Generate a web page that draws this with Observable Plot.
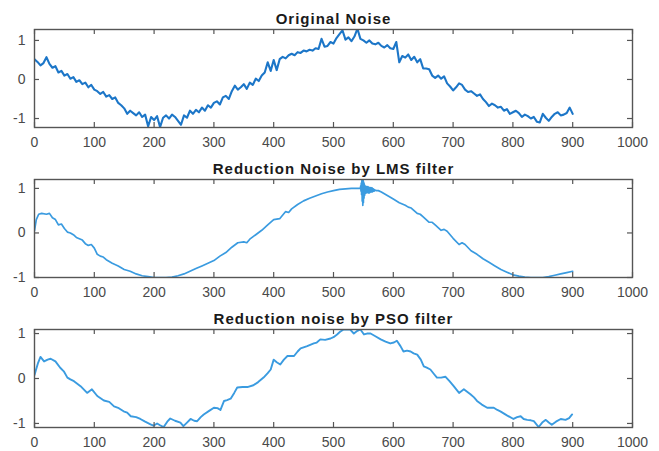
<!DOCTYPE html>
<html><head><meta charset="utf-8">
<script src="https://cdn.jsdelivr.net/npm/d3@7"></script>
<script src="https://cdn.jsdelivr.net/npm/@observablehq/plot@0.6"></script>
<style>body{margin:0;background:#fff;} #chart{width:659px;} svg{display:block;}</style>
</head><body><div id="chart"></div>
<script>
const titles = ["Original Noise", "Reduction Noise by LMS filter", "Reduction noise by PSO filter"];
const xTicks = [0, 100, 200, 300, 400, 500, 600, 700, 800, 900, 1000];
const yTicks = [-1, 0, 1];

// Original noise: samples every 5 from 0 to 900
const origX = d3.range(0, 901, 5);
const origY = [0.52,0.45,0.36,0.42,0.57,0.40,0.30,0.34,0.18,0.22,0.10,0.14,0.02,0.06,-0.06,-0.02,-0.12,-0.08,-0.20,-0.14,
-0.26,-0.30,-0.37,-0.32,-0.44,-0.40,-0.50,-0.46,-0.60,-0.66,-0.74,-0.88,-0.80,-0.86,-0.92,-0.84,-0.96,-0.90,-1.20,-0.96,
-1.04,-0.94,-1.22,-0.98,-0.92,-1.00,-0.90,-0.96,-1.06,-1.16,-0.92,-0.98,-0.80,-0.88,-0.78,-0.84,-0.72,-0.80,-0.66,-0.72,
-0.60,-0.56,-0.64,-0.46,-0.42,-0.50,-0.30,-0.16,-0.26,-0.20,-0.12,-0.24,-0.08,-0.14,0.02,-0.04,0.10,0.18,0.44,0.22,
0.50,0.24,0.52,0.58,0.54,0.62,0.66,0.62,0.70,0.68,0.74,0.72,0.76,0.74,0.80,0.78,1.04,0.84,0.86,0.96,
0.92,1.06,1.16,1.26,1.02,1.08,0.98,1.10,1.30,1.04,1.00,0.94,1.00,0.92,0.90,0.94,0.86,0.82,0.88,0.80,
0.78,0.96,0.44,0.60,0.56,0.64,0.50,0.58,0.44,0.52,0.28,0.28,0.26,0.10,0.04,0.10,0.02,0.08,-0.10,-0.18,
-0.28,-0.20,-0.10,-0.14,-0.26,-0.32,-0.30,-0.36,-0.42,-0.38,-0.50,-0.58,-0.68,-0.62,-0.66,-0.72,-0.70,-0.80,-0.76,-0.88,
-0.84,-0.80,-0.86,-0.96,-0.90,-0.94,-1.00,-0.96,-1.08,-1.10,-0.88,-0.98,-1.06,-0.96,-0.88,-0.84,-0.92,-0.90,-0.86,-0.72,
-0.88];

const lmsX = [0,3,7,12,20,25,30,35,40,45,50,55,60,65,70,80,85,90,95,100,105,110,115,120,130,140,150,160,170,180,190,200,210,220,230,240,250,260,270,280,290,300,310,320,330,340,350,355,360,370,380,390,400,410,420,425,430,440,450,460,470,480,490,500,510,520,530,540,
545,545.5,546,546.5,547,547.5,548,548.5,549,549.5,550,550.5,551,551.5,552,552.5,553,553.5,554,554.5,555,555.5,556,556.5,557,557.5,558,558.5,559,559.5,560,560.5,561,561.5,562,562.5,563,563.5,564,564.5,565,565.5,566,566.5,567,567.5,568,568.5,569,570,572,
575,580,590,600,610,620,625,630,640,645,650,660,665,670,680,685,690,700,710,715,720,730,740,750,760,770,780,790,800,810,820,830,840,850,860,870,880,890,900];
const lmsY = [0.05,0.30,0.42,0.44,0.42,0.44,0.34,0.30,0.18,0.20,0.10,0.02,0.00,-0.04,-0.10,-0.16,-0.24,-0.28,-0.26,-0.34,-0.48,-0.52,-0.54,-0.60,-0.68,-0.74,-0.82,-0.86,-0.92,-0.96,-0.98,-1.00,-1.00,-1.00,-0.99,-0.96,-0.92,-0.86,-0.80,-0.74,-0.68,-0.62,-0.52,-0.44,-0.32,-0.22,-0.20,-0.22,-0.14,-0.04,0.06,0.18,0.30,0.32,0.48,0.46,0.54,0.64,0.72,0.78,0.83,0.88,0.92,0.95,0.98,0.99,1.00,1.00,
1.00,1.06,0.94,1.12,0.86,1.18,0.72,1.21,0.62,1.20,0.68,1.14,0.78,1.10,0.84,1.06,0.88,1.05,0.90,1.04,0.90,1.04,0.91,1.03,0.92,1.04,0.90,1.03,0.91,1.02,0.90,1.02,0.91,1.01,0.92,1.02,0.92,1.00,0.93,1.01,0.92,0.99,0.93,0.99,0.94,0.98,0.94,0.97,0.95,0.96,0.95,
0.95,0.92,0.84,0.76,0.68,0.62,0.58,0.56,0.44,0.42,0.36,0.24,0.24,0.18,0.06,0.08,0.04,-0.12,-0.26,-0.22,-0.26,-0.40,-0.48,-0.58,-0.66,-0.74,-0.82,-0.88,-0.94,-0.97,-0.99,-1.00,-1.00,-1.00,-0.98,-0.95,-0.92,-0.89,-0.86];

const psoX = [0,6,10,16,22,27,35,43,49,55,60,66,77,88,96,105,116,125,133,141,149,155,161,170,177,185,194,199,205,210,216,222,227,235,244,249,255,261,267,272,278,283,292,300,306,311,317,322,328,334,339,348,356,366,374,383,390,395,400,405,411,417,423,434,440,445,456,467,472,478,486,495,500,506,511,517,528,534,540,545,551,556,562,570,579,587,595,601,606,612,617,623,629,634,640,646,651,656,662,668,673,680,687,694,701,710,718,724,729,735,740,748,757,768,774,779,790,801,807,813,818,824,830,835,843,849,855,860,865,872,880,888,894,899];
const psoY = [0.08,0.35,0.48,0.38,0.42,0.44,0.38,0.24,0.16,0.02,-0.02,-0.06,-0.17,-0.32,-0.24,-0.39,-0.49,-0.52,-0.62,-0.66,-0.73,-0.76,-0.84,-0.86,-0.90,-0.96,-1.02,-1.05,-1.00,-1.04,-1.08,-0.96,-0.89,-0.94,-0.98,-1.06,-0.98,-0.90,-0.94,-0.95,-0.86,-0.80,-0.72,-0.65,-0.66,-0.70,-0.50,-0.48,-0.45,-0.32,-0.20,-0.19,-0.19,-0.15,-0.08,0.02,0.12,0.20,0.42,0.36,0.31,0.42,0.50,0.50,0.60,0.67,0.72,0.78,0.80,0.87,0.86,0.89,0.92,0.98,1.04,1.09,1.09,1.00,1.06,1.09,0.98,1.00,1.00,0.94,0.87,0.82,0.78,0.80,0.84,0.72,0.60,0.62,0.60,0.56,0.53,0.42,0.27,0.24,0.20,0.10,0.02,0.02,0.04,-0.06,-0.17,-0.32,-0.24,-0.30,-0.35,-0.42,-0.50,-0.58,-0.65,-0.65,-0.70,-0.73,-0.82,-0.90,-0.86,-0.84,-0.90,-0.92,-0.93,-0.95,-1.08,-0.98,-0.92,-0.98,-1.03,-0.96,-0.90,-0.92,-0.88,-0.80];

const series = [
  {x: origX, y: origY, domain: [-1.23, 1.28], color: "#1c76c8", sw: 2.1},
  {x: lmsX, y: lmsY, domain: [-1.0, 1.2], color: "#3a9be0", sw: 1.7},
  {x: psoX, y: psoY, domain: [-1.09, 1.09], color: "#3a9be0", sw: 1.9}
];

const fmt = d => String(d);
const axisColor = "#555";

series.forEach((s, i) => {
  const data = s.x.map((x, j) => ({x, y: s.y[j]}));
  const chart = Plot.plot({
    width: 659, height: 150,
    marginLeft: 34, marginRight: 27, marginTop: 29, marginBottom: 23,
    style: {fontFamily: "'Liberation Sans', Arial, sans-serif", fontSize: "14px", background: "#fff", overflow: "visible"},
    x: {domain: [0, 1000]},
    y: {domain: s.domain},
    marks: [
      Plot.axisX(xTicks, {tickSize: 0, tickPadding: 10, tickFormat: fmt, fill: "#4a4a4a", label: null}),
      Plot.axisY(yTicks, {tickSize: 0, tickPadding: 9, tickFormat: fmt, fill: "#4a4a4a", label: null}),
      Plot.line(data, {x: "x", y: "y", stroke: s.color, strokeWidth: s.sw, strokeLinejoin: "round", clip: true}),
      Plot.tickX(xTicks, {x: d => d, insetTop: 93, stroke: axisColor, strokeWidth: 1.2}),
      Plot.tickX(xTicks, {x: d => d, insetBottom: 93, stroke: axisColor, strokeWidth: 1.2}),
      Plot.tickY(yTicks, {y: d => d, insetRight: 593, stroke: axisColor, strokeWidth: 1.2}),
      Plot.tickY(yTicks, {y: d => d, insetLeft: 593, stroke: axisColor, strokeWidth: 1.2}),
      Plot.frame({stroke: axisColor, strokeWidth: 1.4}),
      Plot.text([titles[i]], {text: d => d, frameAnchor: "top", dy: -6, lineAnchor: "bottom", fontWeight: "bold", fontSize: 15, fill: "#1a1a1a"})
    ]
  });
  const texts = chart.querySelectorAll('g[aria-label="text"] text');
  if (texts.length) texts[texts.length - 1].style.letterSpacing = "1px";
  document.getElementById("chart").appendChild(chart);
});
</script>
</body></html>
